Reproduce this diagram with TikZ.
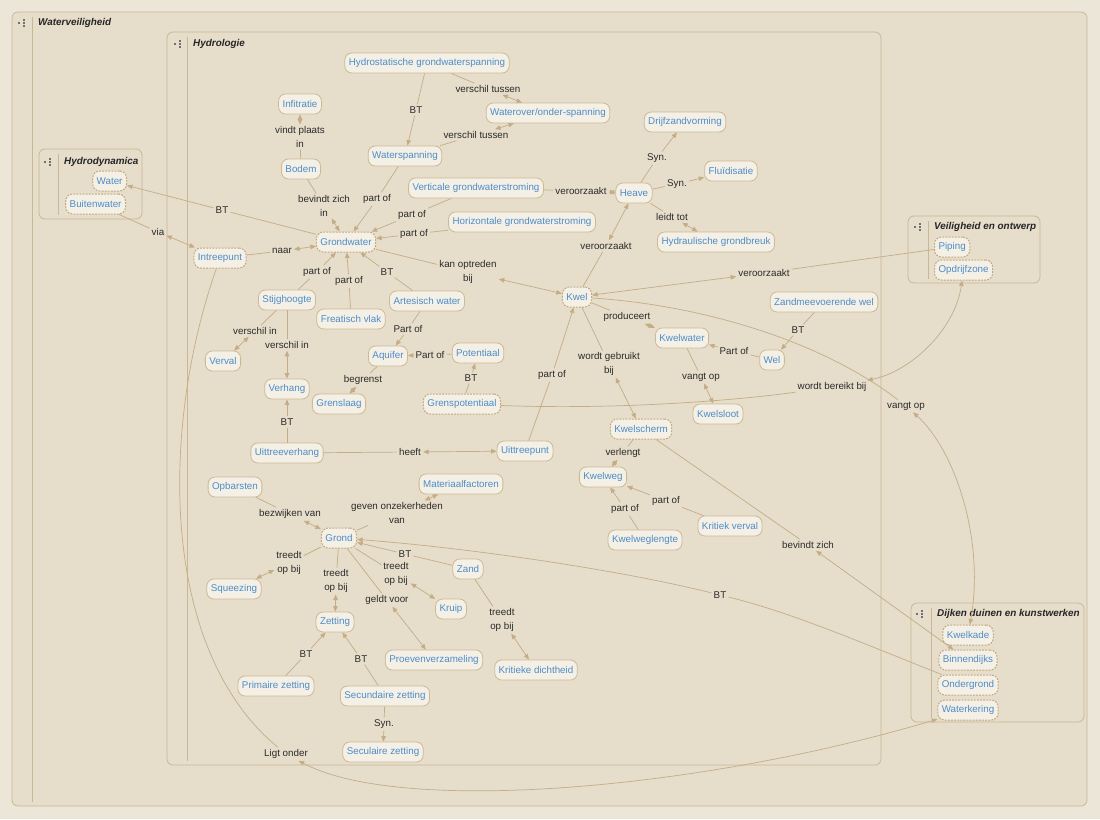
\documentclass[tikz,border=0pt]{standalone}
\usepackage{fontspec}
\setmainfont{Liberation Sans}
\usepackage{xcolor}
\usetikzlibrary{arrows.meta, positioning}

\definecolor{canvasbg}{HTML}{ECE6D9}
\definecolor{panelbg}{HTML}{E6DDCA}
\definecolor{panelline}{HTML}{C9B895}
\definecolor{conceptbg}{HTML}{F4F0E6}
\definecolor{conceptline}{HTML}{CDB994}
\definecolor{sharedline}{HTML}{C2A77C}
\definecolor{conceptblue}{HTML}{4E8CC8}
\definecolor{linkline}{HTML}{C4AD86}
\definecolor{linktext}{HTML}{2B2B2B}
\definecolor{icongrey}{HTML}{707070}

\begin{document}
\begin{tikzpicture}[x=1pt, y=-1pt,
    concept/.style={rectangle, rounded corners=7pt, draw=conceptline, fill=conceptbg,
                    text=conceptblue, font=\fontsize{9.8}{12}\selectfont,
                    inner xsep=4pt, inner ysep=0pt, minimum height=20pt, line width=0.8pt},
    shared/.style={concept, draw=sharedline, line width=1pt, dash pattern=on 1.8pt off 1.3pt},
    link/.style={text=linktext, font=\fontsize{9.8}{13.5}\selectfont, align=center, inner sep=2pt},
    rel/.style={draw=linkline, line width=0.7pt, -{Triangle[length=5.5pt, width=4.5pt]}},
    both/.style={rel, {Triangle[length=5.5pt, width=4.5pt]}-{Triangle[length=5.5pt, width=4.5pt]}},
    group/.style={draw=panelline, fill=panelbg, rounded corners=6pt, line width=0.8pt},
    grouptitle/.style={anchor=west, inner sep=0pt, text=black!85,
                       font=\fontsize{9.9}{12}\selectfont\bfseries\itshape},
    grpicon/.pic={
        \fill[icongrey] (-3.8,-1) rectangle (-1.8,1);
        \foreach \dy in {-3,0,3} {\fill[icongrey] (0.6,\dy-0.55) rectangle (2.8,\dy+0.55);}
    }
]
    \fill[canvasbg] (0,0) rectangle (1100,819);
    \useasboundingbox (0,0) rectangle (1100,819);

    % groups
    \draw[group] (12,12) rectangle (1087,806);
    \draw[panelline] (32,17) -- (32,802);
    \pic at (22,23) {grpicon};
    \node[grouptitle] (t-wv) at (38,23) {Waterveiligheid};

    \draw[group] (167,32) rectangle (881,765);
    \draw[panelline] (187,37) -- (187,761);
    \pic at (178,44) {grpicon};
    \node[grouptitle] (t-hl) at (193,44) {Hydrologie};

    \draw[group] (39,149) rectangle (142,219);
    \draw[panelline] (58,154) -- (58,215);
    \pic at (48,162) {grpicon};
    \node[grouptitle] (t-hd) at (64,162) {Hydrodynamica};

    \draw[group] (908,216) rectangle (1040,283);
    \draw[panelline] (928,221) -- (928,279);
    \pic at (918,227) {grpicon};
    \node[grouptitle] (t-vo) at (934,227) {Veiligheid en ontwerp};

    \draw[group] (911,603) rectangle (1084,722);
    \draw[panelline] (931,608) -- (931,718);
    \pic at (920,614) {grpicon};
    \node[grouptitle] (t-dk) at (937,614) {Dijken duinen en kunstwerken};

    % concepts
    \node[shared, anchor=east] (water) at (127,181) {Water};
    \node[shared, anchor=east] (buiten) at (126,204) {Buitenwater};

    \node[concept] (hgs) at (427,63) {Hydrostatische grondwaterspanning};
    \node[concept] (wos) at (548,113) {Waterover/onder-spanning};
    \node[concept] (infil) at (300,104) {Infitratie};
    \node[concept] (bodem) at (301,169) {Bodem};
    \node[concept] (wsp) at (405,156) {Waterspanning};
    \node[concept] (vgs) at (476,188) {Verticale grondwaterstroming};
    \node[concept] (hzgs) at (522,222) {Horizontale grondwaterstroming};
    \node[concept] (drijf) at (685,122) {Drijfzandvorming};
    \node[concept] (fluid) at (731,171) {Fluïdisatie};
    \node[concept] (heave) at (634,193) {Heave};
    \node[concept] (hgb) at (716,242) {Hydraulische grondbreuk};
    \node[shared] (gw) at (346,242) {Grondwater};
    \node[shared] (intr) at (220,258) {Intreepunt};
    \node[shared] (kwel) at (577,297) {Kwel};
    \node[concept] (stijg) at (287,300) {Stijghoogte};
    \node[concept] (freat) at (351,319) {Freatisch vlak};
    \node[concept] (artes) at (427,301) {Artesisch water};
    \node[concept] (zmw) at (824,302) {Zandmeevoerende wel};
    \node[concept] (verval) at (223,361) {Verval};
    \node[concept] (aquifer) at (388,356) {Aquifer};
    \node[concept] (pot) at (478,353) {Potentiaal};
    \node[concept] (kwelwater) at (682,338) {Kwelwater};
    \node[concept] (wel) at (772,360) {Wel};
    \node[concept] (verhang) at (287,389) {Verhang};
    \node[concept] (grens) at (339,404) {Grenslaag};
    \node[shared] (gpot) at (462,404) {Grenspotentiaal};
    \node[concept] (ksloot) at (718,414) {Kwelsloot};
    \node[shared] (kscherm) at (641,429) {Kwelscherm};
    \node[concept] (uvh) at (287,453) {Uittreeverhang};
    \node[concept] (upunt) at (525,451) {Uittreepunt};
    \node[concept] (kweg) at (603,477) {Kwelweg};
    \node[concept] (opbar) at (235,487) {Opbarsten};
    \node[concept] (matf) at (461,484) {Materiaalfactoren};
    \node[concept] (kverval) at (730,526) {Kritiek verval};
    \node[concept] (kwl) at (645,540) {Kwelweglengte};
    \node[shared] (grond) at (339,538) {Grond};
    \node[concept] (zand) at (468,569) {Zand};
    \node[concept] (squeez) at (234,589) {Squeezing};
    \node[concept] (kruip) at (451,609) {Kruip};
    \node[concept] (zetting) at (335,622) {Zetting};
    \node[concept] (proeven) at (434,660) {Proevenverzameling};
    \node[concept] (kdicht) at (536,670) {Kritieke dichtheid};
    \node[concept] (primz) at (276,686) {Primaire zetting};
    \node[concept] (secz) at (385,696) {Secundaire zetting};
    \node[concept] (seculz) at (383,752) {Seculaire zetting};

    \node[shared, anchor=west] (piping) at (934,247) {Piping};
    \node[shared, below=2pt of piping.south west, anchor=north west] (opdr) {Opdrijfzone};

    \node[shared] (kwelkade) at (968,635) {Kwelkade};
    \node[shared, below=4pt of kwelkade] (binnen) {Binnendijks};
    \node[shared, below=4pt of binnen] (onderg) {Ondergrond};
    \node[shared, below=4pt of onderg] (waterk) {Waterkering};

    % links
    \node[link] (l1) at (222,210) {BT};
    \draw[rel] (gw) -- (l1) -- (water);
    \node[link] (l2) at (158,232) {via};
    \draw[both] (buiten) -- (l2) -- (intr);
    \node[link] (l3) at (282,251) {naar};
    \draw[both] (intr) -- (l3) -- (gw);
    \node[link] (l4) at (300,137) {vindt plaats\\in};
    \draw[both] (bodem) -- (l4) -- (infil);
    \node[link] (l5) at (324,206) {bevindt zich\\in};
    \draw[both] (bodem) -- (l5) -- (gw);
    \node[link] (l6) at (377,199) {part of};
    \draw[rel] (wsp) -- (l6) -- (gw);
    \node[link] (l7) at (412,215) {part of};
    \draw[rel] (vgs) -- (l7) -- (gw);
    \node[link] (l8) at (414,234) {part of};
    \draw[rel] (hzgs) -- (l8) -- (gw);
    \node[link] (l9) at (416,110) {BT};
    \draw[rel] (hgs) -- (l9) -- (wsp);
    \node[link] (l10) at (488,89) {verschil tussen};
    \draw[both] (hgs) -- (l10) -- (wos);
    \node[link] (l11) at (476,135) {verschil tussen};
    \draw[both] (wsp) -- (l11) -- (wos);
    \node[link] (l12) at (581,191) {veroorzaakt};
    \draw[both] (vgs) -- (l12) -- (heave);
    \node[link] (l13) at (657,158) {Syn.};
    \draw[rel] (heave) -- (l13) -- (drijf);
    \node[link] (l14) at (677,184) {Syn.};
    \draw[rel] (heave) -- (l14) -- (fluid);
    \node[link] (l15) at (672,217) {leidt tot};
    \draw[both] (heave) -- (l15) -- (hgb);
    \node[link] (l16) at (606,246) {veroorzaakt};
    \draw[both] (kwel) -- (l16) -- (heave);
    \node[link] (l17) at (468,272) {kan optreden\\bij};
    \draw[both] (gw) -- (l17) -- (kwel);
    \node[link] (l18) at (317,272) {part of};
    \draw[rel] (stijg) -- (l18) -- (gw);
    \node[link] (l19) at (349,281) {part of};
    \draw[rel] (freat) -- (l19) -- (gw);
    \node[link] (l20) at (387,272) {BT};
    \draw[rel] (artes) -- (l20) -- (gw);
    \node[link] (l21) at (255,331) {verschil in};
    \draw[both] (stijg) -- (l21) -- (verval);
    \node[link] (l22) at (287,345) {verschil in};
    \draw[both] (stijg) -- (l22) -- (verhang);
    \node[link] (l23) at (408,329) {Part of};
    \draw[rel] (artes) -- (l23) -- (aquifer);
    \node[link] (l24) at (430,355) {Part of};
    \draw[rel] (pot) -- (l24) -- (aquifer);
    \node[link] (l25) at (363,380) {begrenst};
    \draw[both] (aquifer) -- (l25) -- (grens);
    \node[link] (l26) at (471,378) {BT};
    \draw[rel] (gpot) -- (l26) -- (pot);
    \node[link] (l27) at (287,422) {BT};
    \draw[rel] (uvh) -- (l27) -- (verhang);
    \node[link] (l28) at (410,452) {heeft};
    \draw[both] (uvh) -- (l28) -- (upunt);
    \node[link] (l29) at (552,375) {part of};
    \draw[rel] (upunt) -- (l29) -- (kwel);
    \node[link] (l30) at (627,317) {produceert};
    \draw[both] (kwel) -- (l30) -- (kwelwater);
    \node[link] (l31) at (609,364) {wordt gebruikt\\bij};
    \draw[both] (kwel) -- (l31) -- (kscherm);
    \node[link] (l32) at (734,351) {Part of};
    \draw[rel] (wel) -- (l32) -- (kwelwater);
    \node[link] (l33) at (798,330) {BT};
    \draw[rel] (zmw) -- (l33) -- (wel);
    \node[link] (l34) at (701,377) {vangt op};
    \draw[both] (kwelwater) -- (l34) -- (ksloot);
    \node[link] (l35) at (764,273) {veroorzaakt};
    \draw[both] (piping) -- (l35) -- (kwel);
    \node[link] (l36) at (906,406) {vangt op};
    \draw[both] (kwel) .. controls (700,305) and (820,340) .. (l36)
        .. controls (955,450) and (985,540) .. (kwelkade);
    \node[link] (l37) at (832,387) {wordt bereikt bij};
    \draw[both] (gpot) .. controls (620,410) and (740,400) .. (l37)
        .. controls (910,372) and (955,330) .. (opdr);
    \node[link] (l38) at (623,453) {verlengt};
    \draw[both] (kscherm) -- (l38) -- (kweg);
    \node[link] (l39) at (625,509) {part of};
    \draw[rel] (kwl) -- (l39) -- (kweg);
    \node[link] (l40) at (666,501) {part of};
    \draw[rel] (kverval) -- (l40) -- (kweg);
    \node[link] (l41) at (808,545) {bevindt zich};
    \draw[both] (kscherm) -- (l41) -- (binnen);
    \node[link] (l42) at (720,595) {BT};
    \draw[rel] (onderg) .. controls (860,642) and (790,612) .. (l42)
        .. controls (620,570) and (470,548) .. (grond);
    \node[link] (l43) at (286,754) {Ligt onder};
    \draw[both] (intr) .. controls (160,430) and (160,650) .. (l43)
        .. controls (400,815) and (700,790) .. (waterk);
    \node[link] (l44) at (290,514) {bezwijken van};
    \draw[both] (opbar) -- (l44) -- (grond);
    \node[link] (l45) at (397,513) {geven onzekerheden\\van};
    \draw[both] (grond) -- (l45) -- (matf);
    \node[link] (l46) at (289,563) {treedt\\op bij};
    \draw[both] (grond) -- (l46) -- (squeez);
    \node[link] (l47) at (336,581) {treedt\\op bij};
    \draw[both] (grond) -- (l47) -- (zetting);
    \node[link] (l48) at (387,600) {geldt voor};
    \draw[both] (grond) -- (l48) -- (proeven);
    \node[link] (l49) at (396,574) {treedt\\op bij};
    \draw[both] (grond) -- (l49) -- (kruip);
    \node[link] (l50) at (405,554) {BT};
    \draw[rel] (zand) -- (l50) -- (grond);
    \node[link] (l51) at (502,620) {treedt\\op bij};
    \draw[both] (zand) -- (l51) -- (kdicht);
    \node[link] (l52) at (306,654) {BT};
    \draw[rel] (primz) -- (l52) -- (zetting);
    \node[link] (l53) at (361,659) {BT};
    \draw[rel] (secz) -- (l53) -- (zetting);
    \node[link] (l54) at (384,724) {Syn.};
    \draw[rel] (secz) -- (l54) -- (seculz);
\end{tikzpicture}
\end{document}
